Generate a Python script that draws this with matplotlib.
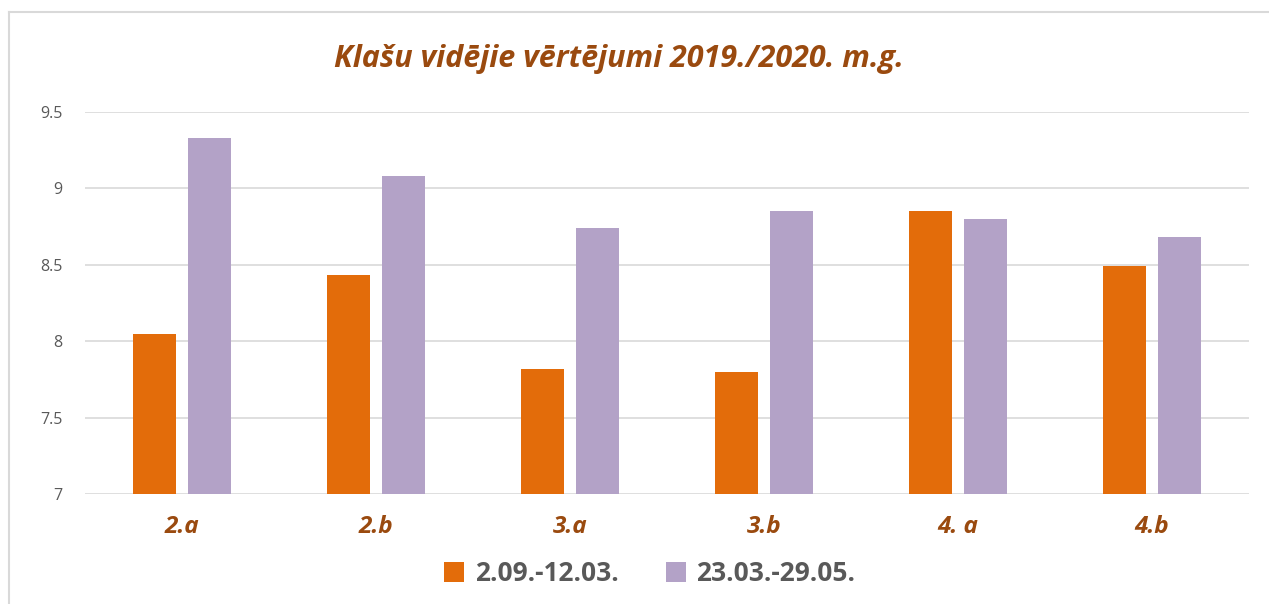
import numpy as np
import matplotlib
matplotlib.use("Agg")
import matplotlib.pyplot as plt
from matplotlib.lines import Line2D

# Data
classes = ["2.a", "2.b", "3.a", "3.b", "4. a", "4.b"]
period1 = [8.05, 8.43, 7.82, 7.80, 8.85, 8.49]
period2 = [9.33, 9.08, 8.74, 8.85, 8.80, 8.68]
labels = ["2.09.-12.03.", "23.03.-29.05."]
yticks = [7, 7.5, 8, 8.5, 9, 9.5]

plt.rcParams['font.family'] = ['Open Sans', 'DejaVu Sans']

brown = "#9a4a0f"
grey = "#595959"

fig = plt.figure(figsize=(12.69, 6.04), dpi=100)
ax = fig.add_axes([85/1269, 110/604, 1164/1269, 382/604])

x = np.arange(len(classes))
w = 0.222
off = 0.142
ax.bar(x - off, period1, w, bottom=0, color="#e36c0a", label=labels[0], zorder=3)
ax.bar(x + off, period2, w, bottom=0, color="#b3a2c7", label=labels[1], zorder=3)

ax.set_xlim(-0.5, len(classes) - 0.5)
ax.set_ylim(7, 9.5)
ax.set_yticks(yticks)
ax.set_yticklabels([f"{v:g}" for v in yticks], fontsize=11.5, color=grey)
ax.set_xticks(x)
ax.set_xticklabels(classes, fontsize=17.5, color=brown, fontweight="bold", fontstyle="italic")
ax.tick_params(axis="both", length=0)
ax.tick_params(axis="x", pad=15)
ax.tick_params(axis="y", pad=16)
ax.grid(axis="y", color="#d9d9d9", linewidth=1.2, zorder=0)
for s in ax.spines.values():
    s.set_visible(False)

fig.text(0.488, 0.902, "Klašu vidējie vērtējumi 2019./2020. m.g.", ha="center", va="center",
         fontsize=22, color=brown, fontweight="bold", fontstyle="italic")

leg = fig.legend(loc="center", bbox_to_anchor=(0.512, 0.05), ncol=2, frameon=False,
                 prop={"size": 19, "weight": "bold"}, handlelength=0.75, handleheight=0.75,
                 handletextpad=0.4, columnspacing=1.8)
for t in leg.get_texts():
    t.set_color(grey)

    # chart frame: only top and left edges are inside the crop
fx, fy = 8.5/1269, 1 - 11.5/604
fig.lines.append(Line2D([fx, 1], [fy, fy], transform=fig.transFigure, color="#d9d9d9", lw=1.5))
fig.lines.append(Line2D([fx, fx], [0, fy], transform=fig.transFigure, color="#d9d9d9", lw=1.5))

fig.savefig("out.png", dpi=100)
